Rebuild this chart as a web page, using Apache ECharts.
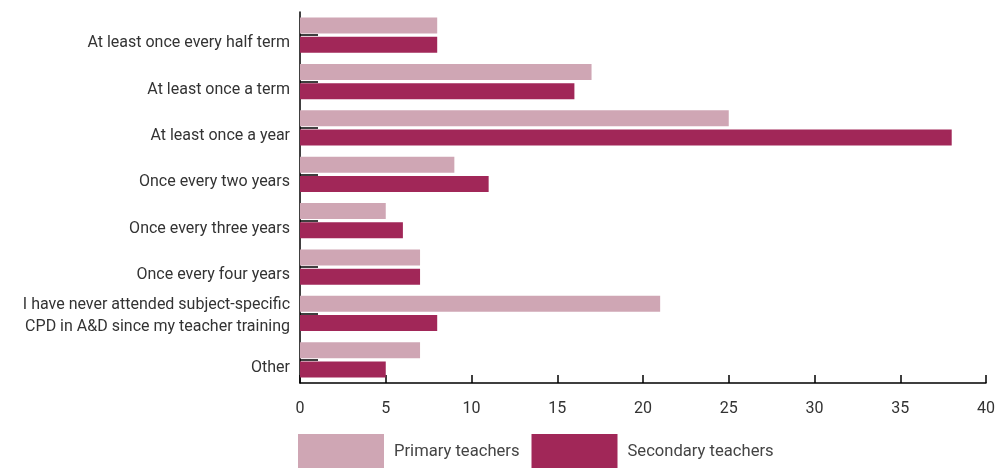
<!DOCTYPE html>
<html><head><meta charset="utf-8">
<script src="https://cdn.jsdelivr.net/npm/echarts@6/dist/echarts.min.js"></script>
<style>html,body{margin:0;padding:0;background:#fff}#c{width:998px;height:468px}</style>
</head><body><div id="c"></div>
<script>
const categories = [
  "At least once every half term",
  "At least once a term",
  "At least once a year",
  "Once every two years",
  "Once every three years",
  "Once every four years",
  "I have never attended subject-specific\nCPD in A&D since my teacher training",
  "Other"
];
const primaryTeachers = [8, 17, 25, 9, 5, 7, 21, 7];
const secondaryTeachers = [8, 16, 38, 11, 6, 7, 8, 5];
const xTicks = [0, 5, 10, 15, 20, 25, 30, 35, 40];

const FONT = 'Roboto';
const TXT = '#333';
const chart = echarts.init(document.getElementById('c'));
chart.setOption({
  animation: false,
  textStyle: {fontFamily: FONT},
  grid: {left: 300, right: 9, top: 12, bottom: 85, containLabel: false},
  legend: {
    left: 298, bottom: -1, padding: 0, itemWidth: 86, itemHeight: 35, itemGap: 12,
    icon: 'rect',
    textStyle: {fontFamily: FONT, fontSize: 16.6, color: '#444', padding: [0,0,0,5]},
    data: ['Primary teachers', 'Secondary teachers']
  },
  xAxis: {
    type: 'value', min: xTicks[0], max: xTicks[xTicks.length-1], interval: 5,
    axisLine: {show: true, lineStyle: {color: '#000', width: 1.5}},
    axisTick: {show: true, inside: true, length: 8, lineStyle: {color: '#000', width: 1.5}},
    splitLine: {show: false},
    axisLabel: {fontFamily: FONT, fontSize: 16, color: TXT, margin: 18}
  },
  yAxis: {
    type: 'category', data: categories, inverse: true,
    axisLine: {show: true, lineStyle: {color: '#000', width: 1.5}},
    axisTick: {show: true, inside: true, alignWithLabel: true, length: 18, lineStyle: {color: '#000', width: 1.5}},
    axisLabel: {
      fontFamily: FONT, fontSize: 16, color: TXT, margin: 10,
      formatter: v => v.indexOf('\n') >= 0 ? v.split('\n').map(l => '{m|' + l + '}').join('\n') : '{s|' + v + '}',
      rich: {
        s: {fontFamily: FONT, fontSize: 16, color: TXT, padding: [16, 0, 0, 0]},
        m: {fontFamily: FONT, fontSize: 16, color: TXT, lineHeight: 22, padding: [5, 0, 0, 0]}
      }
    }
  },
  series: [
    {name: 'Primary teachers', type: 'bar', data: primaryTeachers, barWidth: 16, barGap: '20%',
     itemStyle: {color: '#cfa6b4'}},
    {name: 'Secondary teachers', type: 'bar', data: secondaryTeachers, barWidth: 16, barGap: '20%',
     itemStyle: {color: '#a12758'}}
  ]
});
</script></body></html>
